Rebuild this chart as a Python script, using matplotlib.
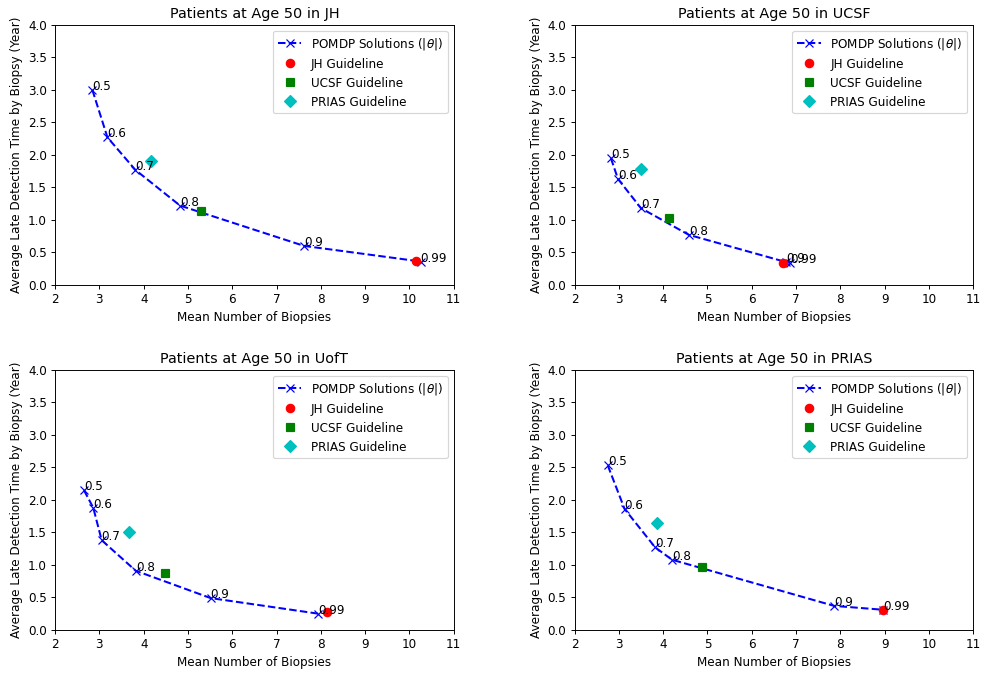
import matplotlib
matplotlib.use("Agg")
import matplotlib.pyplot as plt

# threshold labels for the POMDP solutions
thetas = ["0.5", "0.6", "0.7", "0.8", "0.9", "0.99"]

# (mean number of biopsies, average late detection time) per cohort
jh_pomdp_x = [2.84, 3.18, 3.81, 4.82, 7.62, 10.25]
jh_pomdp_y = [3.00, 2.27, 1.77, 1.22, 0.60, 0.36]
jh_guides = {"JH": (10.14, 0.37), "UCSF": (5.29, 1.14), "PRIAS": (4.16, 1.91)}

ucsf_pomdp_x = [2.82, 2.98, 3.50, 4.58, 6.78, 6.87]
ucsf_pomdp_y = [1.95, 1.63, 1.18, 0.77, 0.35, 0.34]
ucsf_guides = {"JH": (6.70, 0.34), "UCSF": (4.13, 1.03), "PRIAS": (3.51, 1.78)}

uoft_pomdp_x = [2.65, 2.86, 3.05, 3.82, 5.51, 7.94]
uoft_pomdp_y = [2.15, 1.88, 1.38, 0.91, 0.49, 0.25]
uoft_guides = {"JH": (8.13, 0.27), "UCSF": (4.48, 0.87), "PRIAS": (3.66, 1.51)}

prias_pomdp_x = [2.75, 3.13, 3.82, 4.20, 7.86, 8.97]
prias_pomdp_y = [2.53, 1.86, 1.27, 1.08, 0.37, 0.31]
prias_guides = {"JH": (8.97, 0.31), "UCSF": (4.88, 0.97), "PRIAS": (3.87, 1.64)}

cohorts = ["JH", "UCSF", "UofT", "PRIAS"]
pomdp_x = [jh_pomdp_x, ucsf_pomdp_x, uoft_pomdp_x, prias_pomdp_x]
pomdp_y = [jh_pomdp_y, ucsf_pomdp_y, uoft_pomdp_y, prias_pomdp_y]
guides = [jh_guides, ucsf_guides, uoft_guides, prias_guides]

guide_fmt = {"JH": "ro", "UCSF": "gs", "PRIAS": "cD"}

DPI = 86
fig, axes = plt.subplots(2, 2, figsize=(985 / DPI, 673 / DPI), dpi=DPI)
fig.subplots_adjust(left=0.056, right=0.988, top=0.963, bottom=0.064,
                    wspace=0.303, hspace=0.327)

for ax, name, xs, ys, g in zip(axes.flat, cohorts, pomdp_x, pomdp_y, guides):
    ax.plot(xs, ys, "bx--", lw=1.7, ms=7, label=r"POMDP Solutions ($|\theta|$)")
    for k in ["JH", "UCSF", "PRIAS"]:
        gx, gy = g[k]
        ax.plot(gx, gy, guide_fmt[k], ms=7, label=k + " Guideline")
    for t, x, y in zip(thetas, xs, ys):
        ax.annotate(t, (x, y))
    ax.set_xlim(2, 11)
    ax.set_ylim(0, 4)
    ax.set_xticks(range(2, 12))
    ax.set_yticks([0.5 * i for i in range(9)])
    ax.set_xlabel("Mean Number of Biopsies")
    ax.set_ylabel("Average Late Detection Time by Biopsy (Year)")
    ax.set_title("Patients at Age 50 in " + name, fontsize=12)
    ax.legend(loc="upper right")

plt.savefig("out.png", dpi=DPI)
